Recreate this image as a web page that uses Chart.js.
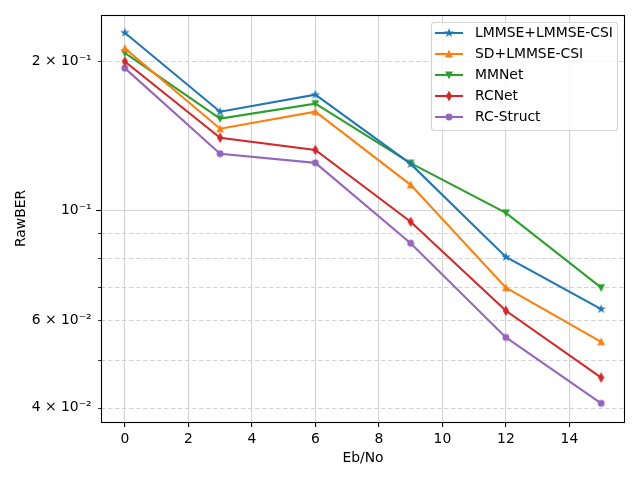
<!DOCTYPE html>
<html>
<head>
<meta charset="utf-8">
<script src="https://cdn.jsdelivr.net/npm/chart.js@4/dist/chart.umd.min.js"></script>
<style>
html,body{margin:0;padding:0;background:#fff;}
#wrap{width:640px;height:480px;}
</style>
</head>
<body>
<div id="wrap"><canvas id="c" width="640" height="480"></canvas></div>
<script>
// ---- data ----
const ebno = [0, 3, 6, 9, 12, 15];
const lmmseLmmseCsi = [0.228, 0.158, 0.171, 0.124, 0.0805, 0.0632];
const sdLmmseCsi    = [0.212, 0.146, 0.158, 0.1125, 0.0698, 0.0543];
const mmnet         = [0.2075, 0.153, 0.164, 0.1244, 0.0988, 0.0698];
const rcnet         = [0.1995, 0.140, 0.1323, 0.0948, 0.0627, 0.046];
const rcStruct      = [0.1934, 0.130, 0.1246, 0.0858, 0.0554, 0.0408];
const seriesNames = ['LMMSE+LMMSE-CSI', 'SD+LMMSE-CSI', 'MMNet', 'RCNet', 'RC-Struct'];
const xTicks = [0, 2, 4, 6, 8, 10, 12, 14];
const yTicks = [0.04, 0.05, 0.06, 0.07, 0.08, 0.09, 0.1, 0.2];
const yTickLabels = {0.04: '4 × 10⁻²', 0.06: '6 × 10⁻²', 0.1: '10⁻¹', 0.2: '2 × 10⁻¹'};

const colors = ['#1f77b4', '#ff7f0e', '#2ca02c', '#d62728', '#9467bd'];
const markers = ['star', 'tri_up', 'tri_down', 'thin_diamond', 'circle'];
const allSeries = [lmmseLmmseCsi, sdLmmseCsi, mmnet, rcnet, rcStruct];

const FS = 13.9;
const FONT = 'DejaVu Sans';
Chart.defaults.color = '#000';
Chart.defaults.font.family = FONT;
Chart.defaults.font.size = FS;

function makeMarker(type, color) {
  const S = 14, c = S / 2;
  const cv = document.createElement('canvas');
  cv.width = S; cv.height = S;
  const g = cv.getContext('2d');
  const ms = 5.56; // marker size px
  g.beginPath();
  if (type === 'circle') {
    g.arc(c, c, ms / 2, 0, Math.PI * 2);
  } else if (type === 'tri_up' || type === 'tri_down') {
    const h = ms / 2, s = type === 'tri_up' ? 1 : -1;
    g.moveTo(c, c - s * h);
    g.lineTo(c - h, c + s * h);
    g.lineTo(c + h, c + s * h);
    g.closePath();
  } else if (type === 'star') {
    const R = ms / 2, r = R * 0.381966;
    for (let i = 0; i < 10; i++) {
      const a = -Math.PI / 2 + i * Math.PI / 5;
      const rr = i % 2 === 0 ? R : r;
      const px = c + rr * Math.cos(a), py = c + rr * Math.sin(a);
      if (i === 0) g.moveTo(px, py); else g.lineTo(px, py);
    }
    g.closePath();
  } else if (type === 'thin_diamond') {
    const hh = ms * 0.7071, hw = hh * 0.6;
    g.moveTo(c, c - hh);
    g.lineTo(c + hw, c);
    g.lineTo(c, c + hh);
    g.lineTo(c - hw, c);
    g.closePath();
  }
  g.fillStyle = color;
  g.fill();
  g.lineWidth = 1.39;
  g.strokeStyle = color;
  g.lineJoin = 'miter';
  g.stroke();
  return cv;
}
const markerImgs = markers.map((m, i) => makeMarker(m, colors[i]));

const datasets = allSeries.map((vals, i) => ({
  label: seriesNames[i],
  data: ebno.map((x, j) => ({x: x, y: vals[j]})),
  borderColor: colors[i],
  backgroundColor: colors[i],
  borderWidth: 2.08,
  pointStyle: markerImgs[i],
  pointRadius: 4,
  pointHoverRadius: 4,
  tension: 0,
  fill: false,
  clip: false
}));

const gridPlugin = {
  id: 'mplGrid',
  beforeDatasetsDraw(chart) {
    const {ctx, chartArea: a, scales: {y}} = chart;
    ctx.save();
    yTicks.forEach(v => {
      const py = Math.round(y.getPixelForValue(v)) + 0.5;
      ctx.beginPath();
      ctx.strokeStyle = '#d3d3d3';
      ctx.lineWidth = 1.1;
      if (v === 0.1) ctx.setLineDash([]); else ctx.setLineDash([4.5, 2.5]);
      ctx.moveTo(a.left, py); ctx.lineTo(a.right, py);
      ctx.stroke();
    });
    ctx.restore();
  },
  afterDatasetsDraw(chart) {
    const {ctx, chartArea: a, scales: {y}} = chart;
    ctx.save();
    ctx.setLineDash([]);
    // y tick marks
    yTicks.forEach(v => {
      const py = Math.round(y.getPixelForValue(v)) + 0.5;
      const major = v === 0.1;
      ctx.beginPath();
      ctx.strokeStyle = '#000';
      ctx.lineWidth = major ? 1.1 : 0.85;
      ctx.moveTo(a.left, py); ctx.lineTo(a.left - (major ? 4.9 : 2.8), py);
      ctx.stroke();
    });
    // frame
    ctx.strokeStyle = '#000';
    ctx.lineWidth = 1.1;
    ctx.strokeRect(Math.round(a.left) + 0.5, Math.round(a.top) + 0.5,
                   Math.round(a.right - a.left) - 1, Math.round(a.bottom - a.top));
    ctx.restore();
  },
  afterDraw(chart) {
    const {ctx, chartArea: a} = chart;
    ctx.save();
    const bx = 431.5, by = 22.5, bw = 186, bh = 108, r = 2.8;
    ctx.beginPath();
    ctx.moveTo(bx + r, by);
    ctx.lineTo(bx + bw - r, by); ctx.arcTo(bx + bw, by, bx + bw, by + r, r);
    ctx.lineTo(bx + bw, by + bh - r); ctx.arcTo(bx + bw, by + bh, bx + bw - r, by + bh, r);
    ctx.lineTo(bx + r, by + bh); ctx.arcTo(bx, by + bh, bx, by + bh - r, r);
    ctx.lineTo(bx, by + r); ctx.arcTo(bx, by, bx + r, by, r);
    ctx.closePath();
    ctx.fillStyle = 'rgba(255,255,255,0.8)';
    ctx.fill();
    ctx.strokeStyle = 'rgba(204,204,204,0.8)';
    ctx.lineWidth = 1.1;
    ctx.stroke();
    seriesNames.forEach((name, i) => {
      const cy = 33 + i * 21;
      ctx.beginPath();
      ctx.strokeStyle = colors[i];
      ctx.lineWidth = 2.08;
      ctx.moveTo(435, cy); ctx.lineTo(463, cy);
      ctx.stroke();
      const img = markerImgs[i];
      ctx.drawImage(img, 449 - img.width / 2, cy - img.height / 2);
      ctx.fillStyle = '#000';
      ctx.font = FS + 'px "' + FONT + '"';
      ctx.textBaseline = 'middle';
      ctx.textAlign = 'left';
      ctx.fillText(name, 475, cy + 0.5);
    });
    ctx.restore();
  }
};

new Chart(document.getElementById('c'), {
  type: 'line',
  data: {datasets: datasets},
  plugins: [gridPlugin],
  options: {
    responsive: false,
    animation: false,
    devicePixelRatio: 1,
    layout: {padding: {left: 0, right: 15, top: 15, bottom: 0}},
    plugins: {legend: {display: false}, tooltip: {enabled: false}},
    scales: {
      x: {
        type: 'linear',
        min: -0.75,
        max: 15.75,
        afterBuildTicks(s) { s.ticks = xTicks.map(v => ({value: v})); },
        afterFit(s) { s.height = 58; },
        grid: {display: true, drawOnChartArea: true, color: '#d3d3d3', lineWidth: 1.1,
               tickColor: '#000', tickLength: 4.9, tickWidth: 1.1},
        border: {display: false},
        ticks: {padding: 4, autoSkip: false, maxRotation: 0, font: {size: FS}},
        title: {display: true, text: 'Eb/No', font: {size: FS}, padding: {top: 0, bottom: 13.5}}
      },
      y: {
        type: 'logarithmic',
        min: 0.03742,
        max: 0.2475,
        afterBuildTicks(s) { s.ticks = yTicks.map(v => ({value: v})); },
        afterFit(s) { s.width = 101; },
        grid: {display: true, drawOnChartArea: false, tickColor: 'rgba(0,0,0,0)', tickLength: 4.9},
        border: {display: false},
        ticks: {
          padding: 4.5, autoSkip: false, font: {size: FS},
          callback(v) { return yTickLabels[v] !== undefined ? yTickLabels[v] : ''; }
        },
        title: {display: true, text: 'RawBER', font: {size: FS}, padding: {top: 13.5, bottom: 0}}
      }
    }
  }
});
</script>
</body>
</html>
